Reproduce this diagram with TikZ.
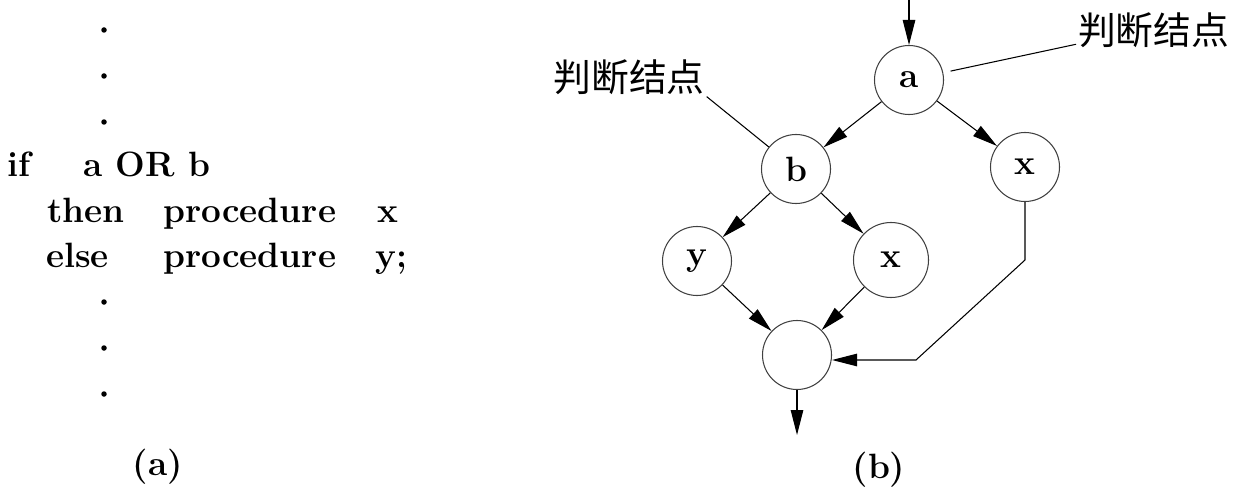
\documentclass[tikz,border=0pt]{standalone}
\usepackage{fontspec}
\newfontfamily\cjk{Noto Sans CJK SC}
\usetikzlibrary{positioning,arrows.meta}
\tikzset{flow node/.style={circle, draw=black!75, line width=0.6pt, minimum size=1.38cm, inner sep=0pt, font=\fontsize{20}{24}\selectfont\bfseries}, }
\tikzset{code text/.style={anchor=base west, inner sep=0pt, font=\fontsize{20}{24}\selectfont\bfseries}, }
\tikzset{note text/.style={inner sep=1pt, font=\fontsize{21.5}{26}\selectfont\cjk}, }
\tikzset{flow/.style={line width=0.6pt, -{Triangle[length=5mm,width=2.5mm]}}, }

\begin{document}
\begin{tikzpicture}
	\useasboundingbox (0,0) rectangle (24.68,9.98);
	% (a) program text
	\foreach \yy in {9.38,8.46,7.54,3.94,3.02,2.10}
		\fill (2.08,\yy) circle (0.055);
	\node[code text] (if) at (0.14,6.44) {if};
	\node[code text] (cond) at (1.66,6.44) {a OR b};
	\node[code text] (then) at (0.94,5.54) {then};
	\node[code text] (proc1) at (3.26,5.54) {procedure};
	\node[code text] (px) at (7.54,5.54) {x};
	\node[code text] (else) at (0.92,4.64) {else};
	\node[code text] (proc2) at (3.26,4.64) {procedure};
	\node[code text] (py) at (7.50,4.64) {y;};
	\node[code text, anchor=center] (capa) at (3.16,0.64) {(a)};
	% (b) flow graph
	\node[flow node] (a) at (18.18,8.38) {a};
	\node[flow node] (b) at (15.92,6.60) {b};
	\node[flow node] (xr) at (20.50,6.64) {x};
	\node[flow node] (y) at (13.94,4.76) {y};
	\node[flow node, minimum size=1.5cm] (xm) at (17.82,4.78) {x};
	\node[flow node] (m) at (15.94,2.88) {};
	\coordinate (in) at (18.18,9.98);
	\coordinate (out) at (15.94,1.28);
	\coordinate (k1) at (20.46,4.78);
	\coordinate (k2) at (18.32,2.78);
	\node[note text] (lb) at (12.58,8.44) {判断结点};
	\node[note text, anchor=west] (rb) at (21.52,9.38) {判断结点};
	\node[code text, anchor=center] (capb) at (17.58,0.58) {(b)};
	\path
		(in) edge[flow] (a)
		(a) edge[flow] (b)
		(a) edge[flow] (xr)
		(b) edge[flow] (y)
		(b) edge[flow] (xm)
		(y) edge[flow] (m)
		(xm) edge[flow] (m)
		(m) edge[flow] (out)
		;
	\draw[flow] (xr) -- (xr |- k1) -- (k2) -- (k2 -| m.east);
	\draw[line width=0.6pt] (lb.south east) -- (b);
	\draw[line width=0.6pt, shorten >=1.5mm] (rb.base west) -- (a);
\end{tikzpicture}
\end{document}
